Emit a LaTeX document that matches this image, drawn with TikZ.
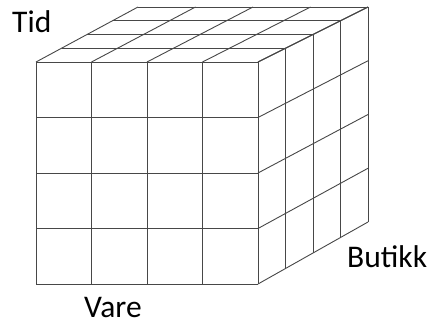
\documentclass[tikz,border=0pt]{standalone}
\usepackage{fontspec}
\setmainfont{Carlito}
\usepackage{tikz}

\begin{document}
\begin{tikzpicture}[x=1pt, y=-1pt,
    gridline/.style={black!72, line width=0.9pt},
    axislabel/.style={inner sep=0pt, anchor=base west, font=\fontsize{31.5}{38}\selectfont},
    declare function={px(\i,\k)=36+55.5*\i+\k*(25.5+0.5*\i);
                      py(\j,\k)=62+55.5*\j-\k*(13.75+0.4375*\j);}]
    \useasboundingbox (0,0) rectangle (431,324);

    % front face
    \foreach \i in {0,...,4} {
        \draw[gridline] ({px(\i,0)},{py(0,0)}) -- ({px(\i,0)},{py(4,0)});
        \draw[gridline] ({px(0,0)},{py(\i,0)}) -- ({px(4,0)},{py(\i,0)});
    }

    % top face
    \foreach \i in {0,...,4}
        \draw[gridline] ({px(\i,0)},{py(0,0)}) -- ({px(\i,4)},{py(0,4)});
    \foreach \k in {1,...,4}
        \draw[gridline] ({px(0,\k)},{py(0,\k)}) -- ({px(4,\k)},{py(0,\k)});

    % right face
    \foreach \j in {0,...,4}
        \draw[gridline] ({px(4,0)},{py(\j,0)}) -- ({px(4,4)},{py(\j,4)});
    \foreach \k in {1,...,4}
        \draw[gridline] ({px(4,\k)},{py(0,\k)}) -- ({px(4,\k)},{py(4,\k)});

    % dimensions
    \node[axislabel] (tid) at (12,32) {Tid};
    \node[axislabel] (vare) at (84,317) {Vare};
    \node[axislabel] (butikk) at (347,267) {Butikk};
\end{tikzpicture}
\end{document}
